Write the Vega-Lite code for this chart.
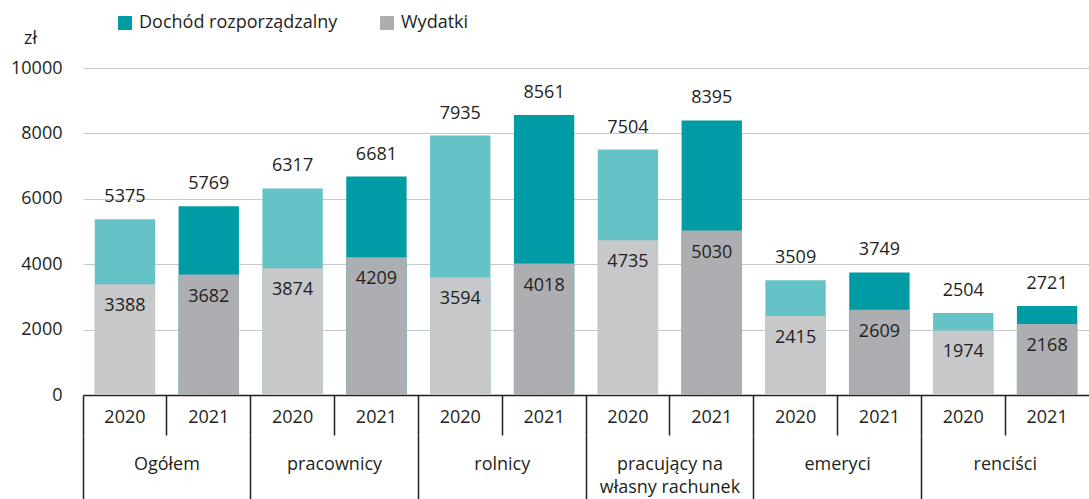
{
  "$schema": "https://vega.github.io/schema/vega-lite/v6.json",
  "width": 1006,
  "height": 327,
  "autosize": {"type": "pad"},
  "padding": {"left": 10, "top": 14, "right": 0, "bottom": 0},
  "background": "white",
  "config": {
    "font": "Open Sans",
    "view": {"stroke": null},
    "axis": {"labelFont": "Open Sans", "titleFont": "Open Sans", "labelColor": "#231F20", "titleColor": "#231F20", "labelFontSize": 18}
  },
  "data": {
    "values": [
      {"kategoria": "Ogółem", "rok": "2020", "grupa": "Ogółem 2020", "dochod": 5375, "wydatki": 3388},
      {"kategoria": "Ogółem", "rok": "2021", "grupa": "Ogółem 2021", "dochod": 5769, "wydatki": 3682},
      {"kategoria": "pracownicy", "rok": "2020", "grupa": "pracownicy 2020", "dochod": 6317, "wydatki": 3874},
      {"kategoria": "pracownicy", "rok": "2021", "grupa": "pracownicy 2021", "dochod": 6681, "wydatki": 4209},
      {"kategoria": "rolnicy", "rok": "2020", "grupa": "rolnicy 2020", "dochod": 7935, "wydatki": 3594},
      {"kategoria": "rolnicy", "rok": "2021", "grupa": "rolnicy 2021", "dochod": 8561, "wydatki": 4018},
      {"kategoria": "pracujący na własny rachunek", "rok": "2020", "grupa": "pracujący na własny rachunek 2020", "dochod": 7504, "wydatki": 4735},
      {"kategoria": "pracujący na własny rachunek", "rok": "2021", "grupa": "pracujący na własny rachunek 2021", "dochod": 8395, "wydatki": 5030},
      {"kategoria": "emeryci", "rok": "2020", "grupa": "emeryci 2020", "dochod": 3509, "wydatki": 2415},
      {"kategoria": "emeryci", "rok": "2021", "grupa": "emeryci 2021", "dochod": 3749, "wydatki": 2609},
      {"kategoria": "renciści", "rok": "2020", "grupa": "renciści 2020", "dochod": 2504, "wydatki": 1974},
      {"kategoria": "renciści", "rok": "2021", "grupa": "renciści 2021", "dochod": 2721, "wydatki": 2168}
    ]
  },
  "layer": [
    {
      "transform": [{"fold": ["dochod", "wydatki"], "as": ["seria", "wartosc"]}],
      "mark": {"type": "bar", "width": {"band": 0.72}},
      "encoding": {
        "x": {
          "field": "grupa", "type": "nominal", "sort": null,
          "scale": {"paddingInner": 0, "paddingOuter": 0},
          "axis": {
            "orient": "bottom", "title": null, "labelExpr": "slice(datum.value, -4)", "labelAngle": 0,
            "domainColor": "#231F20", "domainWidth": 1.5, "tickColor": "#231F20", "tickWidth": 1.5,
            "tickSize": 40, "bandPosition": 0, "labelPadding": -27, "labelBaseline": "top", "grid": false
          }
        },
        "y": {
          "field": "wartosc", "type": "quantitative", "stack": null, "scale": {"domain": [0, 10000]},
          "axis": {
            "title": "zł", "titleAngle": 0, "titleX": -53, "titleY": -25, "titleAlign": "center",
            "titleBaseline": "alphabetic", "titleFontSize": 18, "titleFontWeight": "normal",
            "values": [0, 2000, 4000, 6000, 8000, 10000], "format": "d", "domain": false, "ticks": false,
            "labelPadding": 21, "gridColor": "#C8C9CC", "gridWidth": 1.2
          }
        },
        "color": {
          "field": "seria", "type": "nominal",
          "condition": [
            {"test": "datum.rok == '2020' && datum.seria == 'dochod'", "value": "#65C3C7"},
            {"test": "datum.rok == '2020' && datum.seria == 'wydatki'", "value": "#C7C8CA"}
          ],
          "scale": {"domain": ["dochod", "wydatki"], "range": ["#009CA6", "#ADAEB1"]},
          "legend": {
            "orient": "none", "legendX": 33, "legendY": -54, "direction": "horizontal", "title": null,
            "labelExpr": "datum.value == 'dochod' ? 'Dochód rozporządzalny' : 'Wydatki'",
            "symbolType": "square", "symbolSize": 196, "symbolStrokeWidth": 0, "labelFontSize": 18,
            "labelColor": "#231F20", "labelFont": "Open Sans", "labelOffset": 5, "columnPadding": 40,
            "labelLimit": 400, "padding": 0
          }
        }
      }
    },
    {
      "mark": {"type": "text", "baseline": "middle", "dy": -22, "fontSize": 18, "color": "#231F20"},
      "encoding": {
        "x": {"field": "grupa", "type": "nominal", "sort": null, "axis": null},
        "y": {"field": "dochod", "type": "quantitative"},
        "text": {"field": "dochod", "type": "quantitative", "format": "d"}
      }
    },
    {
      "mark": {"type": "text", "baseline": "middle", "dy": 22, "fontSize": 18, "color": "#231F20"},
      "encoding": {
        "x": {
          "field": "grupa", "type": "nominal", "sort": null,
          "axis": {
            "orient": "bottom", "offset": 40, "title": null, "domain": false, "tickSize": 64, "bandPosition": 0,
            "tickColor": {"condition": {"test": "slice(datum.value, -4) == '2020'", "value": "#231F20"}, "value": "transparent"},
            "tickWidth": 1.5, "labelPadding": -44, "labelBaseline": "top", "labelAngle": 0, "labelOffset": 42,
            "labelLineHeight": 23, "grid": false, "labelLimit": 300,
            "labelExpr": "slice(datum.value, -4) == '2020' ? (slice(datum.value, 0, -5) == 'pracujący na własny rachunek' ? ['pracujący na', 'własny rachunek'] : slice(datum.value, 0, -5)) : ''"
          }
        },
        "y": {"field": "wydatki", "type": "quantitative"},
        "text": {"field": "wydatki", "type": "quantitative", "format": "d"}
      }
    }
  ],
  "resolve": {"axis": {"x": "independent"}}
}
